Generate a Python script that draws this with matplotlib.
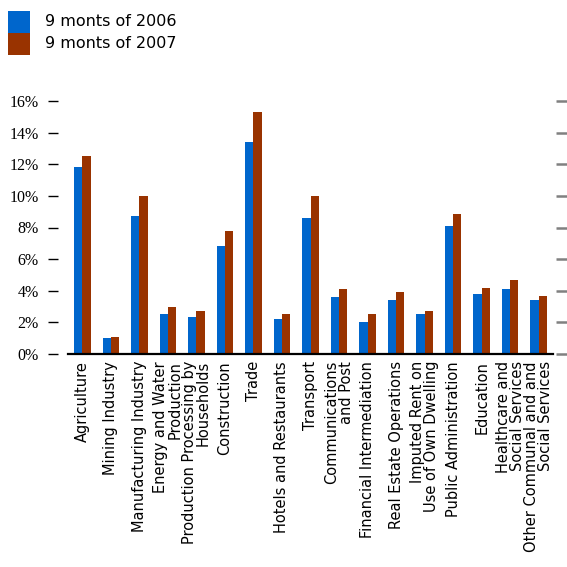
import numpy as np
import matplotlib
matplotlib.use('Agg')
import matplotlib.pyplot as plt
from matplotlib.patches import Rectangle

# доля отраслей, 9 месяцев 2006 / 2007
sectors = ['Agriculture', 'Mining Industry', 'Manufacturing Industry',
           'Energy and Water\nProduction', 'Production Processing by\nHouseholds',
           'Construction', 'Trade', 'Hotels and Restaurants', 'Transport',
           'Communications\nand Post', 'Financial Intermediation',
           'Real Estate Operations', 'Imputed Rent on\nUse of Own Dwelling',
           'Public Administration', 'Education', 'Healthcare and\nSocial Services',
           'Other Communal and and\nSocial Services']
share_2006 = [11.8, 1.0, 8.7, 2.5, 2.35, 6.8, 13.4, 2.2, 8.6, 3.6, 2.05, 3.4,
              2.5, 8.1, 3.8, 4.1, 3.4]
share_2007 = [12.5, 1.1, 10.0, 2.95, 2.7, 7.8, 15.3, 2.5, 10.0, 4.1, 2.5, 3.95,
              2.7, 8.85, 4.15, 4.65, 3.65]
yticks = [0, 2, 4, 6, 8, 10, 12, 14, 16]
series_names = ['9 monts of 2006', '9 monts of 2007']
colors = ['#0066CC', '#993300']

plt.rcParams['font.family'] = 'DejaVu Sans'

W = H = 567
PX = 72 / 100  # пиксели -> пункты при dpi=100

fig = plt.figure(figsize=(5.67, 5.67), dpi=100)
ax = fig.add_axes([68 / W, 1 - 354 / H, (553 - 68) / W, (354 - 101) / H])

x = np.arange(len(sectors))
w = 0.29
ax.bar(x - w / 2, share_2006, width=w, color=colors[0])
ax.bar(x + w / 2, share_2007, width=w, color=colors[1])

ax.set_xlim(-0.5, len(sectors) - 0.5)
ax.set_ylim(0, 16)
ax.set_yticks(yticks)
ax.set_yticklabels([f'{v}%' for v in yticks])

ax.set_xticks(x)
ax.set_xticklabels(sectors, rotation=90, fontsize=10.5, linespacing=0.92,
                   ha='center', va='top', multialignment='right')
ax.tick_params(axis='x', length=0, pad=7 * PX)

# левая шкала вынесена от области графика
for side in ('top', 'left', 'right'):
    ax.spines[side].set_visible(False)
ax.spines['left'].set_position(('outward', 10 * PX))
ax.spines['bottom'].set_linewidth(1.6)
ax.tick_params(axis='y', direction='out', length=10 * PX, width=1,
               color='black', pad=9 * PX, right=False)
for lbl in ax.get_yticklabels():
    lbl.set_fontfamily('Liberation Serif')
    lbl.set_fontsize(11.5)

# справа серые риски без подписей
ax2 = ax.twinx()
ax2.set_ylim(0, 16)
ax2.set_yticks(yticks)
for side in ('top', 'left', 'right', 'bottom'):
    ax2.spines[side].set_visible(False)
ax2.spines['right'].set_position(('outward', 3 * PX))
ax2.tick_params(axis='y', direction='out', length=11 * PX, width=1.8,
                color='#808080', labelright=False)

# легенда
for i, (name, c) in enumerate(zip(series_names, colors)):
    top = 11 + 22 * i
    fig.add_artist(Rectangle((8 / W, 1 - (top + 22) / H), 22 / W, 22 / H,
                             transform=fig.transFigure, facecolor=c,
                             edgecolor='none'))
    fig.text(45 / W, 1 - (top + 11) / H, name, fontsize=11.5, va='center',
             ha='left')

fig.savefig('out.png', dpi=100)
